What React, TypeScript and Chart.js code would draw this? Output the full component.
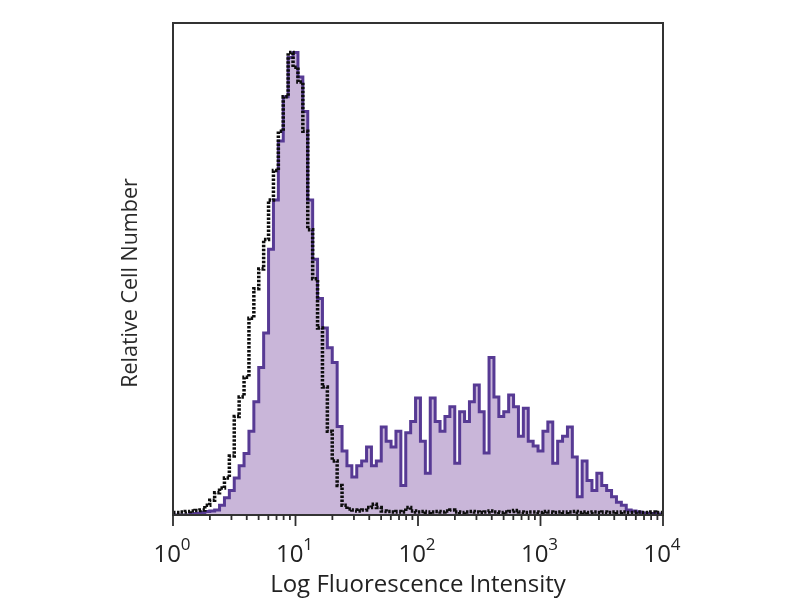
import { useEffect, useRef } from "react";
import { Chart, registerables } from "chart.js";

Chart.register(...registerables);

// Channel width of the histogram, in decades of fluorescence (25 channels per decade)
const CHANNEL_WIDTH_DECADES = 0.04;

// Axis decades: 10^0 ... 10^4
const TICK_EXPONENTS = [0, 1, 2, 3, 4];
const X_TITLE = "Log Fluorescence Intensity";
const Y_TITLE = "Relative Cell Number";

// Stained sample (purple, filled), relative cell number per channel (0-100)
const STAINED_COUNTS = [
  0, 0, 0, 0, 0.2, 0.3, 0.5, 0.7, 0.8, 1, // 0-9
  2, 3.5, 5, 7.5, 10, 12.5, 17, 23, 30, 37, // 10-19
  54, 64, 76, 85, 93, 94, 89, 82, 64, 52, // 20-29
  44, 38, 34, 31, 18, 13, 10, 7.7, 10, 11, // 30-39
  13.8, 10, 11, 17.9, 15, 13.8, 17, 6, 16.7, 19, // 40-49
  23.8, 15, 8.5, 23.8, 19, 17, 20, 22, 10.5, 21, // 50-59
  19, 23, 26.4, 21, 12.6, 32, 24, 20, 21, 24.4, // 60-69
  22, 16, 21.7, 15, 14, 13, 17, 18.9, 10.5, 15, // 70-79
  16, 17.9, 11.8, 3.7, 11, 7, 5, 8.5, 6, 5, // 80-89
  3.7, 2.6, 2, 1, 0.8, 0.6, 0.4, 0.3, 0.3, 0.2, // 90-99
  0, // 100
];

// Isotype control (black dotted outline), relative cell number per channel (0-100)
const CONTROL_COUNTS = [
  0.5, 0.5, 0.6, 0.7, 0.8, 0.9, 1, 2, 3, 4.5, // 0-9
  5.5, 7.5, 12, 20, 24, 28, 40, 46, 50, 56, // 10-19
  64, 70, 78, 85, 94, 91, 88, 78, 58, 48, // 20-29
  38, 26, 17, 11, 6, 2, 1.2, 1, 0.8, 1, // 30-39
  1.5, 2.2, 1.5, 0.8, 0.7, 0.6, 0.7, 0.6, 1.5, 0.8, // 40-49
  0.6, 0.7, 0.5, 0.6, 0.7, 0.6, 0.8, 1, 0.6, 0.5, // 50-59
  0.6, 0.7, 0.6, 0.5, 0.6, 0.8, 0.6, 0.5, 0.6, 0.7, // 60-69
  0.9, 0.6, 0.5, 0.6, 0.6, 0.5, 0.7, 0.6, 0.5, 0.6, // 70-79
  0.5, 0.6, 0.7, 0.5, 0.6, 0.5, 0.6, 0.5, 0.6, 0.5, // 80-89
  0.6, 0.5, 0.6, 0.5, 0.5, 0.6, 0.5, 0.5, 0.6, 0.5, // 90-99
  0.5, // 100
];

const toPoints = (counts: number[]) =>
  counts.map((y, i) => ({ x: i * CHANNEL_WIDTH_DECADES, y }));

const axisDecor = {
  id: "axisDecor",
  afterDatasetsDraw(chart: any) {
    const { ctx, chartArea: a, scales } = chart;
    const x = scales.x;
    ctx.save();
    // frame
    ctx.strokeStyle = "#333333";
    ctx.lineWidth = 2;
    ctx.strokeRect(a.left, a.top, a.right - a.left, a.bottom - a.top);

    // ticks
    ctx.lineWidth = 1.8;
    ctx.strokeStyle = "#2e2e2e";
    const maxExp = TICK_EXPONENTS[TICK_EXPONENTS.length - 1];
    for (const e of TICK_EXPONENTS) {
      const px = x.getPixelForValue(e);
      ctx.beginPath();
      ctx.moveTo(px, a.bottom);
      ctx.lineTo(px, a.bottom + 11);
      ctx.stroke();
      if (e < maxExp) {
        for (let m = 2; m <= 9; m++) {
          const mp = x.getPixelForValue(e + Math.log10(m));
          ctx.beginPath();
          ctx.moveTo(mp, a.bottom);
          ctx.lineTo(mp, a.bottom + 5);
          ctx.stroke();
        }
      }
    }

    // tick labels 10^n
    ctx.fillStyle = "#222222";
    ctx.textBaseline = "alphabetic";
    ctx.textAlign = "left";
    const baseFont = "24px 'Open Sans'";
    const supFont = "17px 'Open Sans'";
    for (const e of TICK_EXPONENTS) {
      const px = x.getPixelForValue(e);
      const sup = String(e);
      ctx.font = baseFont;
      const w1 = ctx.measureText("10").width;
      ctx.font = supFont;
      const w2 = ctx.measureText(sup).width;
      const start = px - (w1 + w2) / 2 - 1;
      ctx.font = baseFont;
      ctx.fillText("10", start, a.bottom + 47);
      ctx.font = supFont;
      ctx.fillText(sup, start + w1, a.bottom + 35);
    }

    // y title
    ctx.translate(a.left - 42, (a.top + a.bottom) / 2 + 14);
    ctx.rotate(-Math.PI / 2);
    ctx.textAlign = "center";
    ctx.textBaseline = "middle";
    ctx.font = "21.5px 'Open Sans'";
    ctx.fillStyle = "#2a2a2a";
    ctx.fillText(Y_TITLE, 0, 0);
    ctx.restore();
  },
};

export default function App() {
  const canvasRef = useRef<HTMLCanvasElement | null>(null);

  useEffect(() => {
    const canvas = canvasRef.current;
    if (!canvas) return;
    const chart = new Chart(canvas, {
      type: "line",
      data: {
        datasets: [
          {
            label: "Isotype control",
            data: toPoints(CONTROL_COUNTS),
            borderColor: "#0d0d0d",
            borderWidth: 3.5,
            borderDash: [2.5, 1.5],
            pointRadius: 0,
            stepped: "middle",
            fill: false,
          },
          {
            label: "Stained",
            data: toPoints(STAINED_COUNTS),
            borderColor: "#573a94",
            borderWidth: 3,
            backgroundColor: "rgb(201, 182, 217)",
            fill: "origin",
            pointRadius: 0,
            stepped: "middle",
          },
        ],
      },
      options: {
        animation: false,
        responsive: false,
        maintainAspectRatio: false,
        layout: { padding: { left: 0, right: 137, top: 23, bottom: 0 } },
        plugins: {
          legend: { display: false },
          tooltip: { enabled: false },
        },
        scales: {
          x: {
            type: "linear",
            min: 0,
            max: 4,
            grid: { display: false },
            border: { display: false },
            ticks: { display: false },
            title: {
              display: true,
              text: X_TITLE,
              color: "#222",
              font: { family: "'Open Sans'", size: 24 },
              padding: { top: 0, bottom: 0 },
            },
            afterFit: (s: any) => {
              s.height = 85;
            },
          },
          y: {
            min: 0,
            max: 100,
            grid: { display: false },
            border: { display: false },
            ticks: { display: false },
            afterFit: (s: any) => {
              s.width = 173;
            },
          },
        },
      },
      plugins: [axisDecor],
    });
    return () => chart.destroy();
  }, []);

  return (
    <div style={{ position: "fixed", left: 0, top: 0, width: 800, height: 600, background: "#fff" }}>
      <canvas ref={canvasRef} width={800} height={600} style={{ width: 800, height: 600 }} />
    </div>
  );
}
